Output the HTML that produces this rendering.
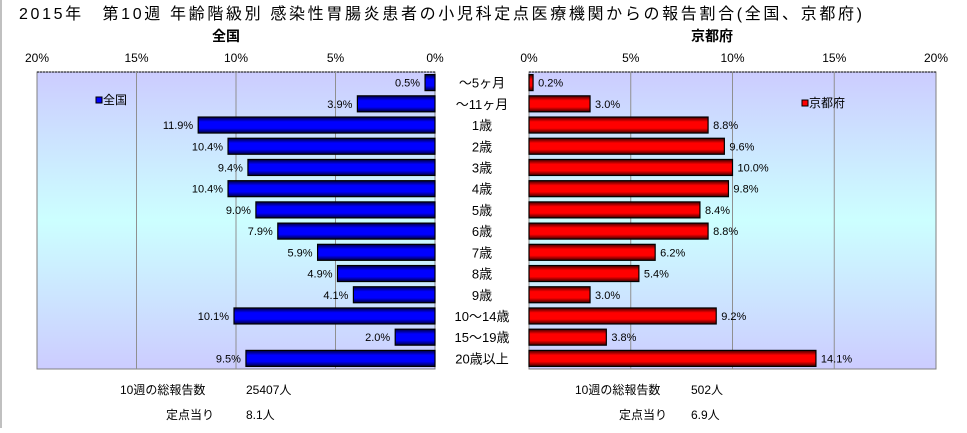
<!DOCTYPE html>
<html><head><meta charset="utf-8">
<style>
html,body{margin:0;padding:0;background:#fff;}
body{width:967px;height:428px;overflow:hidden;position:relative;font-family:"Liberation Sans","Noto Sans CJK JP",sans-serif;}
svg text{font-family:"Liberation Sans","Noto Sans CJK JP",sans-serif;}
</style></head>
<body>
<svg id="chart" width="967" height="428" viewBox="0 0 967 428" xmlns="http://www.w3.org/2000/svg">
<defs>
<linearGradient id="bg" x1="0" y1="0" x2="0" y2="1">
<stop offset="0" stop-color="#ccccff"/><stop offset="0.5" stop-color="#ccffff"/><stop offset="1" stop-color="#ccccff"/>
</linearGradient>
<linearGradient id="blue" x1="0" y1="0" x2="0" y2="1">
<stop offset="0" stop-color="#000040"/><stop offset="0.3" stop-color="#0000ff"/><stop offset="0.7" stop-color="#0000ff"/><stop offset="1" stop-color="#000040"/>
</linearGradient>
<linearGradient id="red" x1="0" y1="0" x2="0" y2="1">
<stop offset="0" stop-color="#400000"/><stop offset="0.3" stop-color="#ff0000"/><stop offset="0.7" stop-color="#ff0000"/><stop offset="1" stop-color="#400000"/>
</linearGradient>
</defs>
<rect x="0" y="0" width="2" height="428" fill="#c0c0c0"/>
<text x="19" y="19" font-size="16" fill="#000" textLength="843" lengthAdjust="spacing">2015年　第10週 年齢階級別 感染性胃腸炎患者の小児科定点医療機関からの報告割合(全国、京都府)</text>
<g id="g"></g>
</svg>
<script>
const categories = ["～5ヶ月","～11ヶ月","1歳","2歳","3歳","4歳","5歳","6歳","7歳","8歳","9歳","10～14歳","15～19歳","20歳以上"];
const nationalValues = [0.5,3.9,11.9,10.4,9.4,10.4,9.0,7.9,5.9,4.9,4.1,10.1,2.0,9.5];
const kyotoValues = [0.2,3.0,8.8,9.6,10.0,9.8,8.4,8.8,6.2,5.4,3.0,9.2,3.8,14.1];
const tickValues = [0,5,10,15,20];
const tickLabels = ["0%","5%","10%","15%","20%"];

const NS="http://www.w3.org/2000/svg";
const g=document.getElementById('g');
function mk(tag,attrs,parent){const e=document.createElementNS(NS,tag);for(const k in attrs)e.setAttribute(k,attrs[k]);(parent||g).appendChild(e);return e;}
const plotTop=72,plotBottom=369,maxV=20;
const rowH=(plotBottom-plotTop)/categories.length;
const barH=16;
const L={zero:435,end:37};
const R={zero:529,end:936};
function xL(v){return L.zero-(L.zero-L.end)*v/maxV;}
function xR(v){return R.zero+(R.end-R.zero)*v/maxV;}
function yC(i){return plotTop+rowH*(i+0.5);}

function panel(side){
  const isL=side==='L';
  const x0=isL?L.end:R.zero, x1=isL?L.zero:R.end;
  const bg=mk('rect',{x:x0,y:plotTop,width:x1-x0,height:plotBottom-plotTop,fill:'url(#bg)',stroke:'#808080','stroke-width':1});
  
  
  mk('line',{x1:x0,y1:plotTop,x2:x1,y2:plotTop,stroke:'#000','stroke-dasharray':'2,1'});
  tickValues.forEach((t,i)=>{
    const x=isL?xL(t):xR(t);
    if(t>0&&t<20){const gl=mk('line',{x1:x,y1:plotTop,x2:x,y2:plotBottom,stroke:'#909090'});
      
      }
    const tl=mk('text',{x:x,y:62,'font-size':12,'text-anchor':'middle',fill:'#000'});
    tl.textContent=tickLabels[i];
    
    
  });
  const vals=isL?nationalValues:kyotoValues;
  vals.forEach((v,i)=>{
    const y=yC(i)-barH/2;
    const xs=isL?xL(v):R.zero, w=isL?L.zero-xL(v):xR(v)-R.zero;
    const b=mk('rect',{x:xs,y:y,width:w,height:barH,fill:isL?'url(#blue)':'url(#red)',stroke:'#000','stroke-width':1.2});
    
    
    const lx=isL?xL(v)-5:xR(v)+5;
    const t=mk('text',{x:lx,y:yC(i)+4,'font-size':11,'text-anchor':isL?'end':'start',fill:'#000'});
    t.textContent=v.toFixed(1)+'%';
    
    
  });
}
panel('L');panel('R');

categories.forEach((c,i)=>{
  const t=mk('text',{x:482,y:yC(i)+5,'font-size':13,'text-anchor':'middle',fill:'#000'});
  t.textContent=c;
  
  
});

let t;
t=mk('text',{x:226,y:41,'font-size':14,'font-weight':'bold','text-anchor':'middle'});t.textContent='全国';


t=mk('text',{x:712,y:41,'font-size':14,'font-weight':'bold','text-anchor':'middle'});t.textContent='京都府';



let lg;
lg=mk('rect',{x:96,y:97,width:6,height:6,fill:'#0000ff',stroke:'#000'});


t=mk('text',{x:103,y:104,'font-size':12});t.textContent='全国';


lg=mk('rect',{x:802,y:100,width:6,height:6,fill:'#ff0000',stroke:'#000'});


t=mk('text',{x:809,y:107,'font-size':12});t.textContent='京都府';



const notes=[
 [120,394,'10週の総報告数','national-total-label'],[246,394,'25407人','national-total-value'],
 [166,419,'定点当り','national-per-site-label'],[246,419,'8.1人','national-per-site-value'],
 [575,394,'10週の総報告数','kyoto-total-label'],[691,394,'502人','kyoto-total-value'],
 [619,419,'定点当り','kyoto-per-site-label'],[691,419,'6.9人','kyoto-per-site-value']
];
notes.forEach(n=>{
  const e=mk('text',{x:n[0],y:n[1],'font-size':12});
  e.textContent=n[2];
  
  
});
</script>
</body></html>
